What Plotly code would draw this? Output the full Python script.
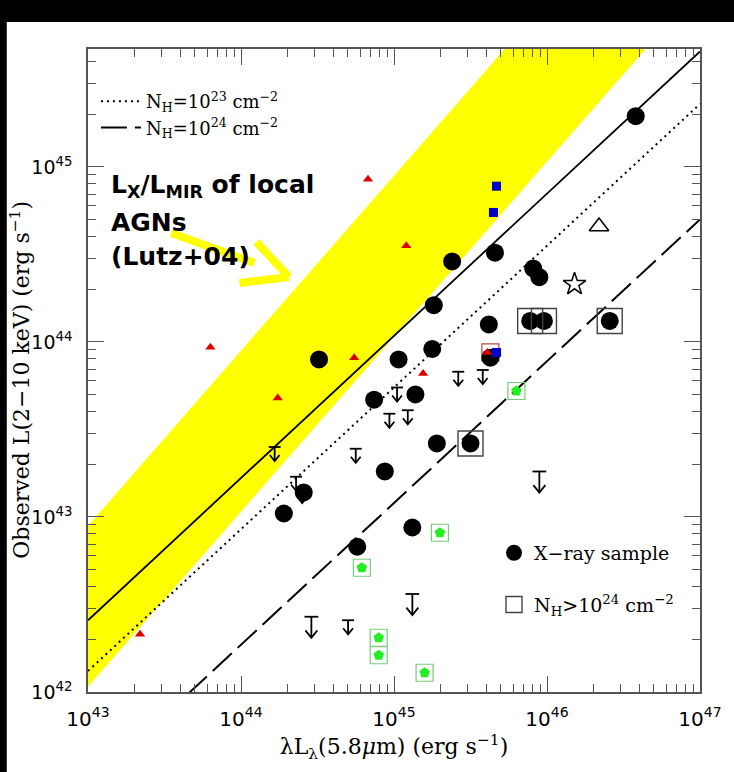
import plotly.graph_objects as go

# ---------------- data (log10 values) ----------------
# X-ray sample: log lambda L_lambda(5.8um), log L(2-10 keV)
xray_lx = [46.58, 45.38, 45.66, 45.91, 45.95, 45.26, 45.62, 45.25, 44.51, 45.03,
           45.63, 44.87, 45.14, 45.28, 44.94, 44.41, 44.28, 45.12, 44.76,
           45.89, 45.98, 46.41, 45.50]
xray_ly = [45.29, 44.46, 44.51, 44.42, 44.37, 44.21, 44.10, 43.96, 43.90, 43.90,
           43.91, 43.67, 43.70, 43.42, 43.26, 43.14, 43.02, 42.94, 42.83,
           44.12, 44.12, 44.12, 43.42]
# N_H > 1e24 (open squares)
ct_lx = [45.89, 45.98, 46.41, 45.50]
ct_ly = [44.12, 44.12, 44.12, 43.42]
# red triangles
red_lx = [43.34, 43.80, 44.24, 44.83, 44.74, 45.08, 45.19, 45.61]
red_ly = [42.33, 43.97, 43.68, 44.93, 43.91, 44.55, 43.82, 43.94]
# blue squares
blue_lx = [45.67, 45.65, 45.67]
blue_ly = [44.89, 44.74, 43.94]
# red open square
rsq_lx = [45.63]
rsq_ly = [43.94]
# green pentagons in boxes
grn_lx = [45.80, 44.79, 44.90, 44.90, 45.30, 45.20]
grn_ly = [43.72, 42.71, 42.31, 42.21, 42.91, 42.11]
# open triangle and open star
otri_lx, otri_ly = [46.34], [44.66]
star_lx, star_ly = [46.18], [44.33]
# upper limits (small and large arrows)
ul_lx = [44.22, 44.36, 44.40, 44.75, 45.02, 44.97, 45.09, 45.42, 45.58, 44.70]
ul_ly = [43.40, 43.23, 43.16, 43.39, 43.74, 43.59, 43.61, 43.83, 43.84, 42.41]
ulb_lx = [45.95, 44.46, 45.12]
ulb_ly = [43.26, 42.43, 42.56]
# relations: values at L_MIR = 1e43 and 1e47
rel_x = [43.0, 47.0]
solid_y = [42.41, 45.66]
dot_y = [42.12, 45.36]
dash_y = [41.46, 44.70]
# Lutz+04 band edges
band_hi = [42.95, 46.95]
band_lo = [42.03, 46.03]

xticks = [43, 44, 45, 46, 47]
yticks = [42, 43, 44, 45]
lutz_lines = ["<b>L<sub>X</sub>/L<sub>MIR</sub> of local</b>", "<b>AGNs</b>", "<b>(Lutz+04)</b>"]


def p(v):
    return [10.0 ** a if a is not None else None for a in v]


def limits(lx, ly, bw, h, hw, hh):
    xs, ys = [], []
    for a, b in zip(lx, ly):
        xs += [a - bw, a + bw, None, a, a, None, a - hw, a, a + hw, None]
        ys += [b, b, None, b, b - h, None, b - h + hh, b - h, b - h + hh, None]
    return p(xs), p(ys)


fig = go.Figure()

# yellow band
fig.add_trace(go.Scatter(x=p(rel_x), y=p(band_lo), mode="lines", line=dict(width=0, color="#ffff00"),
                         showlegend=False, hoverinfo="skip"))
fig.add_trace(go.Scatter(x=p(rel_x), y=p(band_hi), mode="lines", line=dict(width=0, color="#ffff00"),
                         fill="tonexty", fillcolor="#ffff00", showlegend=False, hoverinfo="skip"))

# relations
fig.add_trace(go.Scatter(x=p(rel_x), y=p(solid_y), mode="lines", line=dict(color="black", width=1.8),
                         showlegend=False))
fig.add_trace(go.Scatter(x=p(rel_x), y=p(dot_y), mode="lines",
                         line=dict(color="black", width=2, dash="2px,4px"), legendrank=1,
                         name="N<sub>H</sub>=10<sup>23</sup> cm<sup>−2</sup>", legend="legend"))
fig.add_trace(go.Scatter(x=p(rel_x), y=p(dash_y), mode="lines",
                         line=dict(color="black", width=2, dash="26px,8px"), legendrank=2,
                         name="N<sub>H</sub>=10<sup>24</sup> cm<sup>−2</sup>", legend="legend"))

# upper limits
ux, uy = limits(ul_lx, ul_ly, 0.039, 0.080, 0.032, 0.034)
fig.add_trace(go.Scatter(x=ux, y=uy, mode="lines", line=dict(color="black", width=1.8),
                         showlegend=False, hoverinfo="skip"))
ux, uy = limits(ulb_lx, ulb_ly, 0.045, 0.12, 0.039, 0.042)
fig.add_trace(go.Scatter(x=ux, y=uy, mode="lines", line=dict(color="black", width=1.8),
                         showlegend=False, hoverinfo="skip"))

# green
fig.add_trace(go.Scatter(x=p(grn_lx), y=p(grn_ly), mode="markers",
                         marker=dict(symbol="square-open", size=17, color="#77cc77", line=dict(width=1.2)),
                         showlegend=False))
fig.add_trace(go.Scatter(x=p(grn_lx), y=p(grn_ly), mode="markers",
                         marker=dict(symbol="pentagon", size=11, color="#22ee22"),
                         showlegend=False))

# red open square
fig.add_trace(go.Scatter(x=p(rsq_lx), y=p(rsq_ly), mode="markers",
                         marker=dict(symbol="square-open", size=17, color="#b04848", line=dict(width=1.2)),
                         showlegend=False))

# X-ray sample
fig.add_trace(go.Scatter(x=p(xray_lx), y=p(xray_ly), mode="markers",
                         marker=dict(symbol="circle", size=18, color="black"),
                         name="X−ray sample", legend="legend2", legendgroup="a"))
# N_H > 1e24
fig.add_trace(go.Scatter(x=p(ct_lx), y=p(ct_ly), mode="markers",
                         marker=dict(symbol="square-open", size=25, color="#444444", line=dict(width=1.4)),
                         name="N<sub>H</sub>&gt;10<sup>24</sup> cm<sup>−2</sup>", legend="legend2",
                         legendgroup="b"))

# red triangles
fig.add_trace(go.Scatter(x=p(red_lx), y=p(red_ly), mode="markers",
                         marker=dict(symbol="triangle-up", size=9, color="#dd0000"),
                         showlegend=False))
# blue squares
fig.add_trace(go.Scatter(x=p(blue_lx), y=p(blue_ly), mode="markers",
                         marker=dict(symbol="square", size=9, color="#0000cc"),
                         showlegend=False))
# open triangle / star
fig.add_trace(go.Scatter(x=p(otri_lx), y=p(otri_ly), mode="markers",
                         marker=dict(symbol="triangle-up-open", size=17, color="black", line=dict(width=1.5)),
                         showlegend=False))
fig.add_trace(go.Scatter(x=p(star_lx), y=p(star_ly), mode="markers",
                         marker=dict(symbol="star-open", size=17, color="black", line=dict(width=1.5)),
                         showlegend=False))


def px2paper(px, py):
    return (px - 88) / 618.0, (692 - py) / 643.0


shapes = []
# black border strips
shapes.append(dict(type="rect", xref="paper", yref="paper", x0=-0.3, x1=1.3,
                   y0=px2paper(0, 22)[1], y1=1.3, fillcolor="black", line=dict(width=0), layer="above"))
shapes.append(dict(type="rect", xref="paper", yref="paper", x0=-0.3, x1=px2paper(6, 0)[0],
                   y0=-0.3, y1=1.3, fillcolor="black", line=dict(width=0), layer="above"))
# yellow arrow
for (a, b), (c, d) in [((172, 233), (256, 263)), ((258, 242), (291, 277)), ((241, 283), (291, 277))]:
    x0, y0 = px2paper(a, b)
    x1, y1 = px2paper(c, d)
    shapes.append(dict(type="line", xref="paper", yref="paper", x0=x0, y0=y0, x1=x1, y1=y1,
                       line=dict(color="#ffff00", width=8), layer="above"))

annotations = []
for txt, yc in zip(lutz_lines, [186, 222, 256]):
    annotations.append(dict(xref="paper", yref="paper", x=px2paper(109, 0)[0], y=px2paper(0, yc)[1],
                            xanchor="left", yanchor="middle", align="left", showarrow=False, text=txt,
                            font=dict(family="DejaVu Sans", size=25, color="black")))
annotations.append(dict(xref="paper", yref="paper", x=px2paper(19, 0)[0], y=px2paper(0, 380)[1],
                        xanchor="center", yanchor="middle", showarrow=False, textangle=-90,
                        text="Observed L(2−10 keV) (erg s<sup>−1</sup>)",
                        font=dict(family="DejaVu Serif", size=22, color="black")))

ax_common = dict(type="log", showline=True, linecolor="#555555", linewidth=1.5, mirror="ticks",
                 ticks="inside", ticklen=16, tickwidth=1.3, tickcolor="#555555",
                 showgrid=False, zeroline=False,
                 minor=dict(ticks="inside", ticklen=8, tickwidth=1.3, tickcolor="#555555", dtick="D1",
                            showgrid=False),
                 tickfont=dict(family="DejaVu Sans", size=20, color="black"))

fig.update_layout(
    width=734, height=772,
    margin=dict(l=88, r=28, t=49, b=80),
    paper_bgcolor="white", plot_bgcolor="white",
    xaxis=dict(ax_common, range=[43, 47], tickmode="array",
               tickvals=[10.0 ** v for v in xticks],
               ticktext=["10<sup>%d</sup>" % v for v in xticks],
               ticklabelstandoff=8,
               title=dict(text="λL<sub>λ</sub>(5.8<i>μ</i>m) (erg s<sup>−1</sup>)",
                          font=dict(family="DejaVu Serif", size=22, color="black"), standoff=8)),
    yaxis=dict(ax_common, range=[42, 45.674], tickmode="array",
               tickvals=[10.0 ** v for v in yticks],
               ticktext=["10<sup>%d</sup>" % v for v in yticks],
               tickfont=dict(family="DejaVu Sans", size=19, color="black"),
               ticklabelstandoff=10),
    legend=dict(x=px2paper(96, 0)[0], y=px2paper(0, 83)[1], xanchor="left", yanchor="top",
                bgcolor="rgba(0,0,0,0)", font=dict(family="DejaVu Serif", size=18, color="black"),
                itemwidth=40, tracegroupgap=0, traceorder="normal"),
    legend2=dict(x=px2paper(498, 0)[0], y=px2paper(0, 534)[1], xanchor="left", yanchor="top",
                 bgcolor="rgba(0,0,0,0)", font=dict(family="DejaVu Serif", size=19, color="black"),
                 traceorder="grouped", tracegroupgap=24),
    shapes=shapes,
    annotations=annotations,
)

fig.write_html("out.html")
